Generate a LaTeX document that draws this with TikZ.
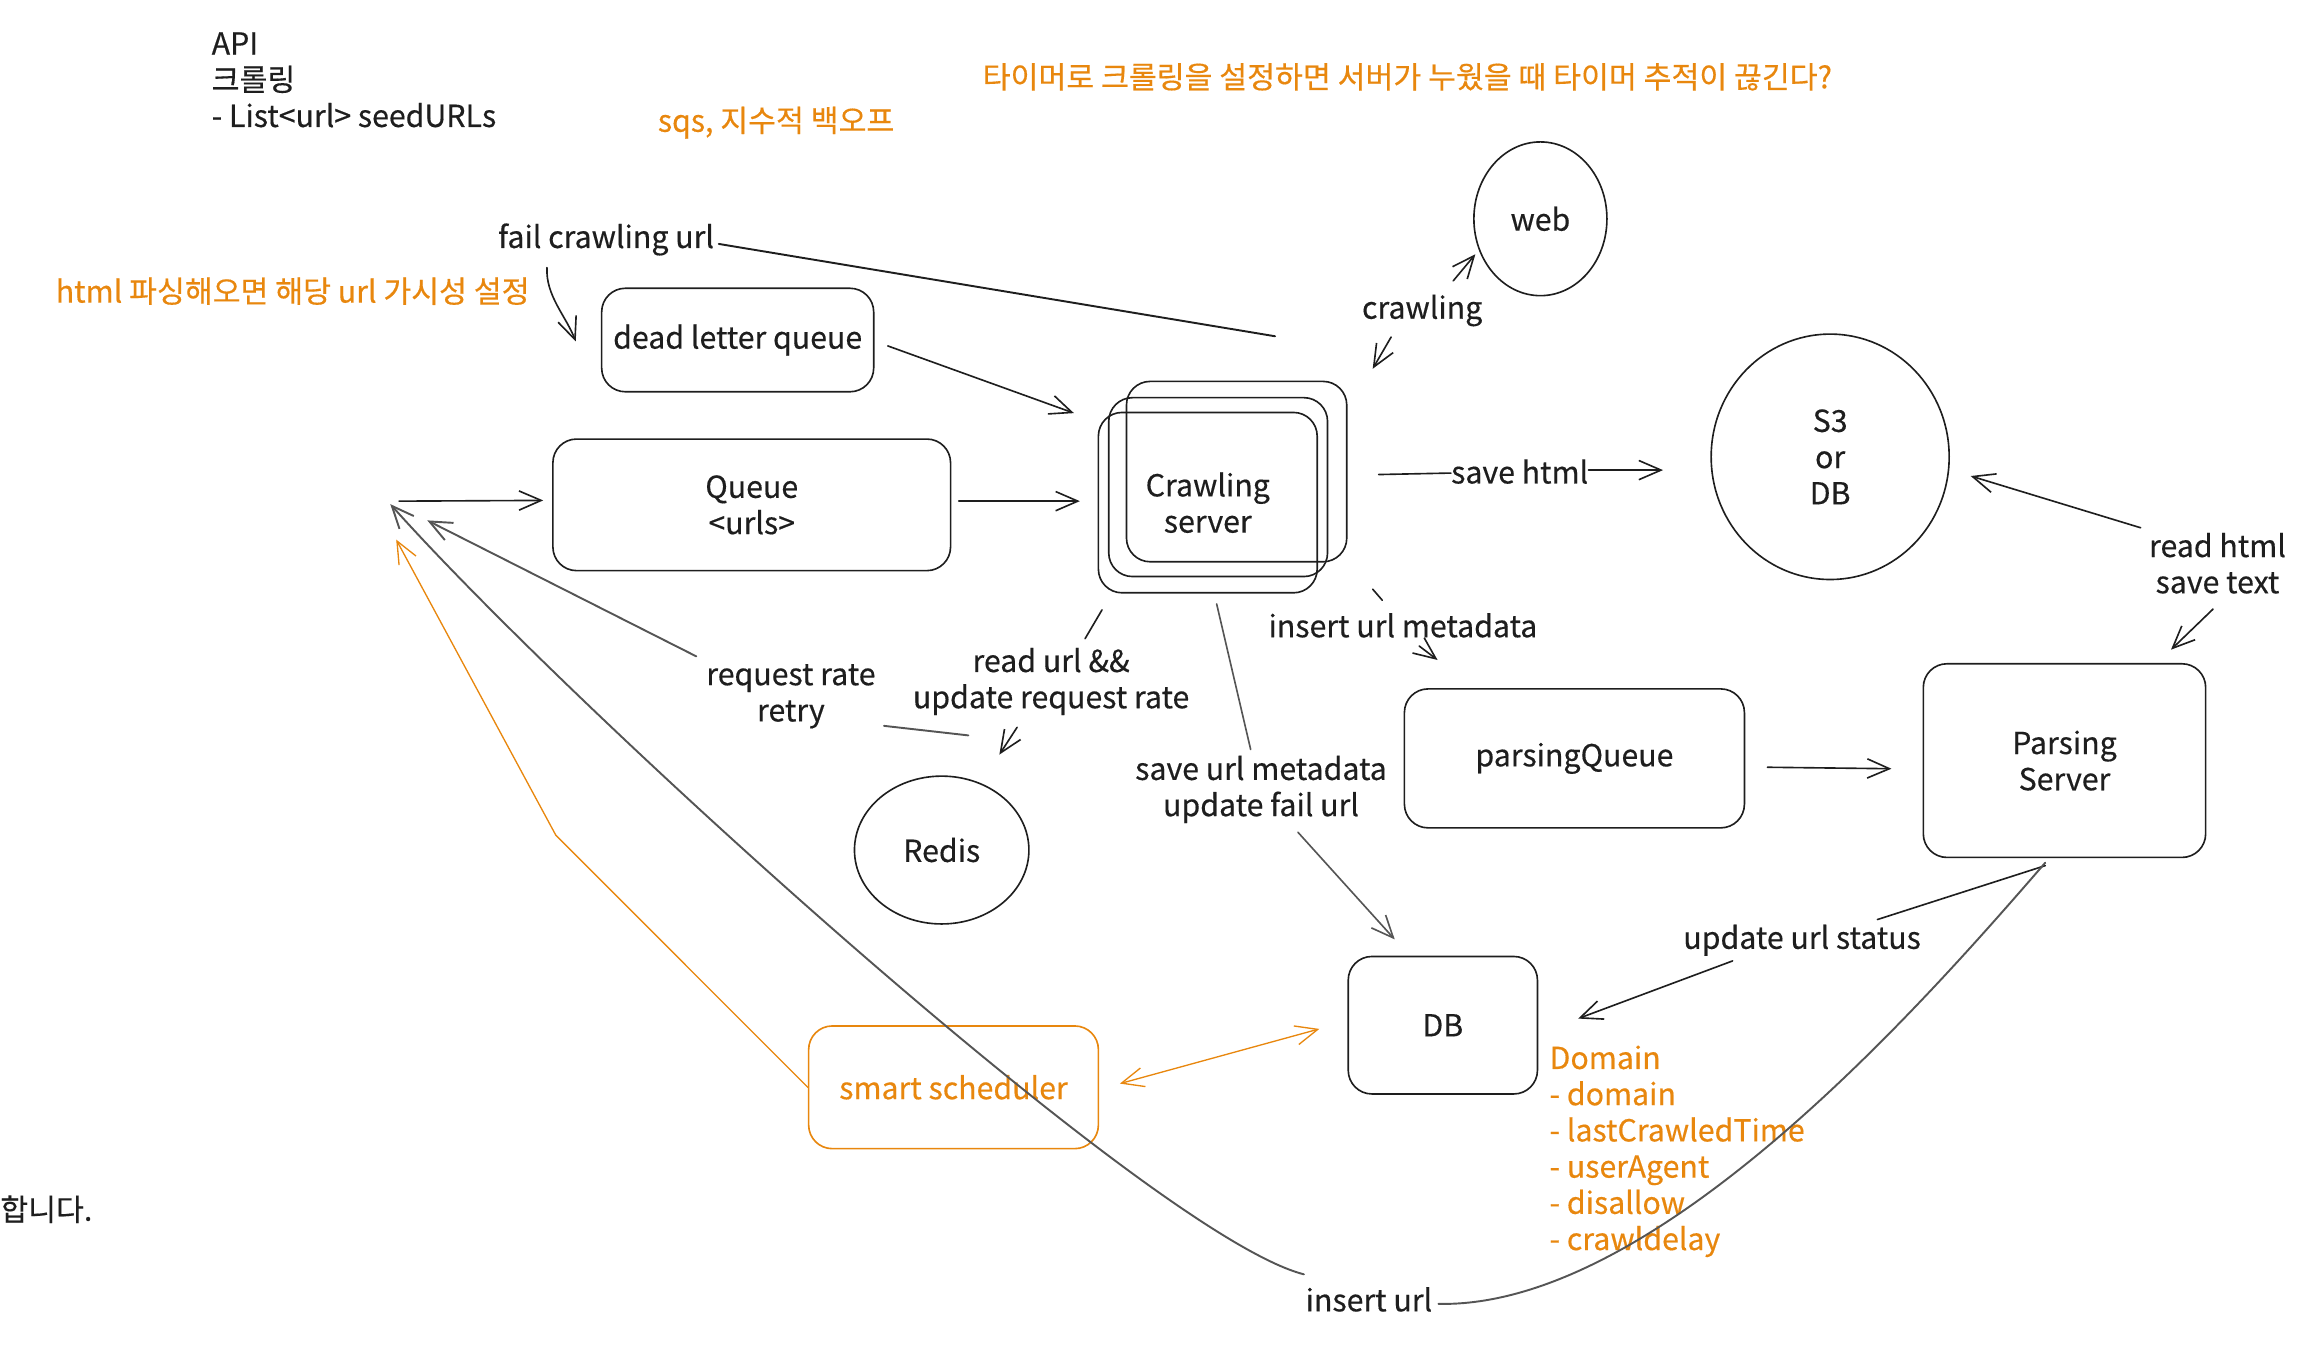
\documentclass[tikz,border=0pt]{standalone}
\usepackage{fontspec}
\setmainfont{Noto Sans CJK KR}[FakeBold=0.4]
\usetikzlibrary{arrows.meta,shapes.geometric,calc}
\definecolor{ink}{HTML}{1E1E1E}
\definecolor{org}{HTML}{E8870E}
\definecolor{gry}{HTML}{555555}
\begin{document}
\begin{tikzpicture}[x=1pt,y=-1pt,
  every node/.style={font=\fontsize{20.5}{24.5}\selectfont, text=ink, inner sep=2pt, align=center},
  box/.style={draw=ink, line width=1.1pt, rounded corners=16pt},
  obox/.style={draw=org, line width=1.1pt, rounded corners=16pt, text=org},
  circ/.style={draw=ink, line width=1.1pt, ellipse, inner sep=0pt},
  con/.style={draw=ink, line width=1.1pt, line cap=round, line join=round},
  arr/.style={con, -{Straight Barb[length=15pt,width=13pt]}},
  gcon/.style={con, draw=gry},
  garr/.style={arr, draw=gry},
  ocon/.style={draw=org, line width=0.9pt, line cap=round, line join=round},
  oarr/.style={ocon, -{Straight Barb[length=15pt,width=13pt]}},
  otxt/.style={text=org}
]
\path[use as bounding box] (0,0) rectangle (1568,923);

% ---- nodes ----
\node[box, minimum width=184pt, minimum height=70pt] (dlq) at (499,230) {dead letter queue};
\node[box, minimum width=269pt, minimum height=89pt] (queue) at (508.5,341.5) {Queue\\<urls>};
\node[box, minimum width=149pt, minimum height=122pt] (crawl3) at (836.5,319) {};
\node[box, minimum width=148pt, minimum height=121pt] (crawl2) at (824,329.5) {};
\node[box, minimum width=148pt, minimum height=122pt] (crawl) at (817,340) {Crawling\\server};
\node[circ, minimum width=90pt, minimum height=104pt] (web) at (1042,148) {web};
\node[circ, minimum width=161pt, minimum height=166pt] (s3) at (1238,309) {S3\\or\\DB};
\node[box, minimum width=230pt, minimum height=94pt] (pq) at (1065,513) {parsingQueue};
\node[box, minimum width=191pt, minimum height=131pt] (ps) at (1396.5,514.5) {Parsing\\Server};
\node[circ, minimum width=118pt, minimum height=100pt] (redis) at (637,575) {Redis};
\node[box, minimum width=128pt, minimum height=93pt] (db) at (976,693.5) {DB};
\node[obox, minimum width=196pt, minimum height=83pt] (smart) at (645,735.5) {smart scheduler};

% ---- free texts ----
\node[anchor=west, align=left] (api) at (141,54) {API\\크롤링\\- List<url> seedURLs};
\node[otxt] (timer) at (952,52) {타이머로 크롤링을 설정하면 서버가 누웠을 때 타이머 추적이 끊긴다?};
\node[otxt] (sqs) at (525,83) {sqs, 지수적 백오프};
\node[otxt] (html) at (198,197) {html 파싱해오면 해당 url 가시성 설정};
\node[anchor=west, inner sep=0pt] (hap) at (0,818) {합니다.};
\node[otxt, anchor=north west, align=left] (domain) at (1046,705) {Domain\\- domain\\- lastCrawledTime\\- userAgent\\- disallow\\- crawldelay};

% ---- labels ----
\node (fail) at (410,162) {fail crawling url};
\node (clab) at (962,210) {crawling};
\node (savehtml) at (1028,319) {save html};
\node (readhtml) at (1500,381) {read html\\save text};
\node (ium) at (949,423) {insert url metadata};
\node (rurl) at (711,461) {read url \&\&\\update request rate};
\node (rrate) at (535,471) {request rate\\retry};
\node (sum) at (853,534) {save url metadata\\update fail url};
\node (uus) at (1219,636) {update url status};
\node (iurl) at (926,879) {insert url};

% ---- free ends ----
\coordinate (in1) at (264,341);
\coordinate (qin) at (270,339);
\coordinate (in2) at (289,352);
\coordinate (in3) at (268,365);
\coordinate (f1) at (370,181);

% ---- connectors ----
\draw[arr] (qin) -- ($(queue.west)+(-6,-3)$);
\draw[arr] ($(queue.east)+(5,-2.5)$) -- ($(crawl.west)+(-12,-1)$);
\draw[arr] ($(dlq.east)+(9,4)$) -- ($(crawl.north west)+(-16,1)$);
\draw[con, line width=1.3pt] ($(fail.east)+(1,3)$) -- ($(crawl3.north)+(26,-30)$);
\draw[arr] (f1) .. controls (369,200) and (383,214) .. ($(dlq.west)+(-17,1)$);

\draw[arr] ($(clab.center)+(-21,18)$) -- ($(crawl3.north east)+(17,-8)$);
\draw[arr] ($(clab.center)+(21,-20)$) -- ($(web.center)+(-44,24)$);

\draw[con] ($(crawl3.east)+(21,2)$) -- ($(savehtml.west)+(2,1)$);
\draw[arr] ($(savehtml.east)+(-2,-1)$) -- ($(s3.west)+(-32,9)$);

\draw[arr] ($(readhtml.center)+(-52,-24)$) -- ($(s3.east)+(14,13)$);
\draw[arr] ($(readhtml.center)+(-3,31)$) -- ($(ps.north east)+(-24,-9)$);

\draw[con] ($(crawl3.south east)+(17,18)$) -- ($(ium.center)+(-14,-17)$);
\draw[arr] ($(ium.center)+(11,14)$) -- ($(pq.north west)+(23,-19)$);

\draw[arr] ($(pq.east)+(15,6)$) -- ($(ps.west)+(-21,5.5)$);

\draw[con] ($(crawl.south west)+(3,11)$) -- ($(rurl.center)+(23,-29)$);
\draw[arr] ($(rurl.center)+(-23,31)$) -- ($(redis.north)+(39,-14)$);

\draw[gcon, line width=1.3pt] ($(redis.north)+(18,-27)$) -- ($(rrate.center)+(63,20)$);
\draw[garr, line width=1.3pt] ($(rrate.center)+(-64,-27)$) -- (in2);

\draw[gcon] ($(crawl.south)+(6,7)$) -- ($(sum.center)+(-7,-27)$);
\draw[garr] ($(sum.center)+(25,29)$) -- ($(db.north west)+(32,-11)$);

\draw[con] ($(ps.south)+(-13,5)$) -- ($(uus.center)+(51,-14)$);
\draw[arr] ($(uus.center)+(-47,14)$) -- ($(db.east)+(27,-4.5)$);

\draw[gcon, line width=1.3pt] ($(ps.south)+(-13,3)$) .. controls (1300,680) and (1120,885) .. ($(iurl.center)+(47,3)$);
\draw[garr, line width=1.3pt] ($(iurl.center)+(-44,-17)$) .. controls (780,836) and (390,482) .. (in1);

\draw[ocon, {Straight Barb[length=15pt,width=13pt]}-{Straight Barb[length=15pt,width=13pt]}] ($(smart.east)+(14,-2.5)$) -- ($(db.west)+(-19,2.5)$);
\draw[oarr] (smart.west) -- (376,565) -- (in3);
\end{tikzpicture}
\end{document}
